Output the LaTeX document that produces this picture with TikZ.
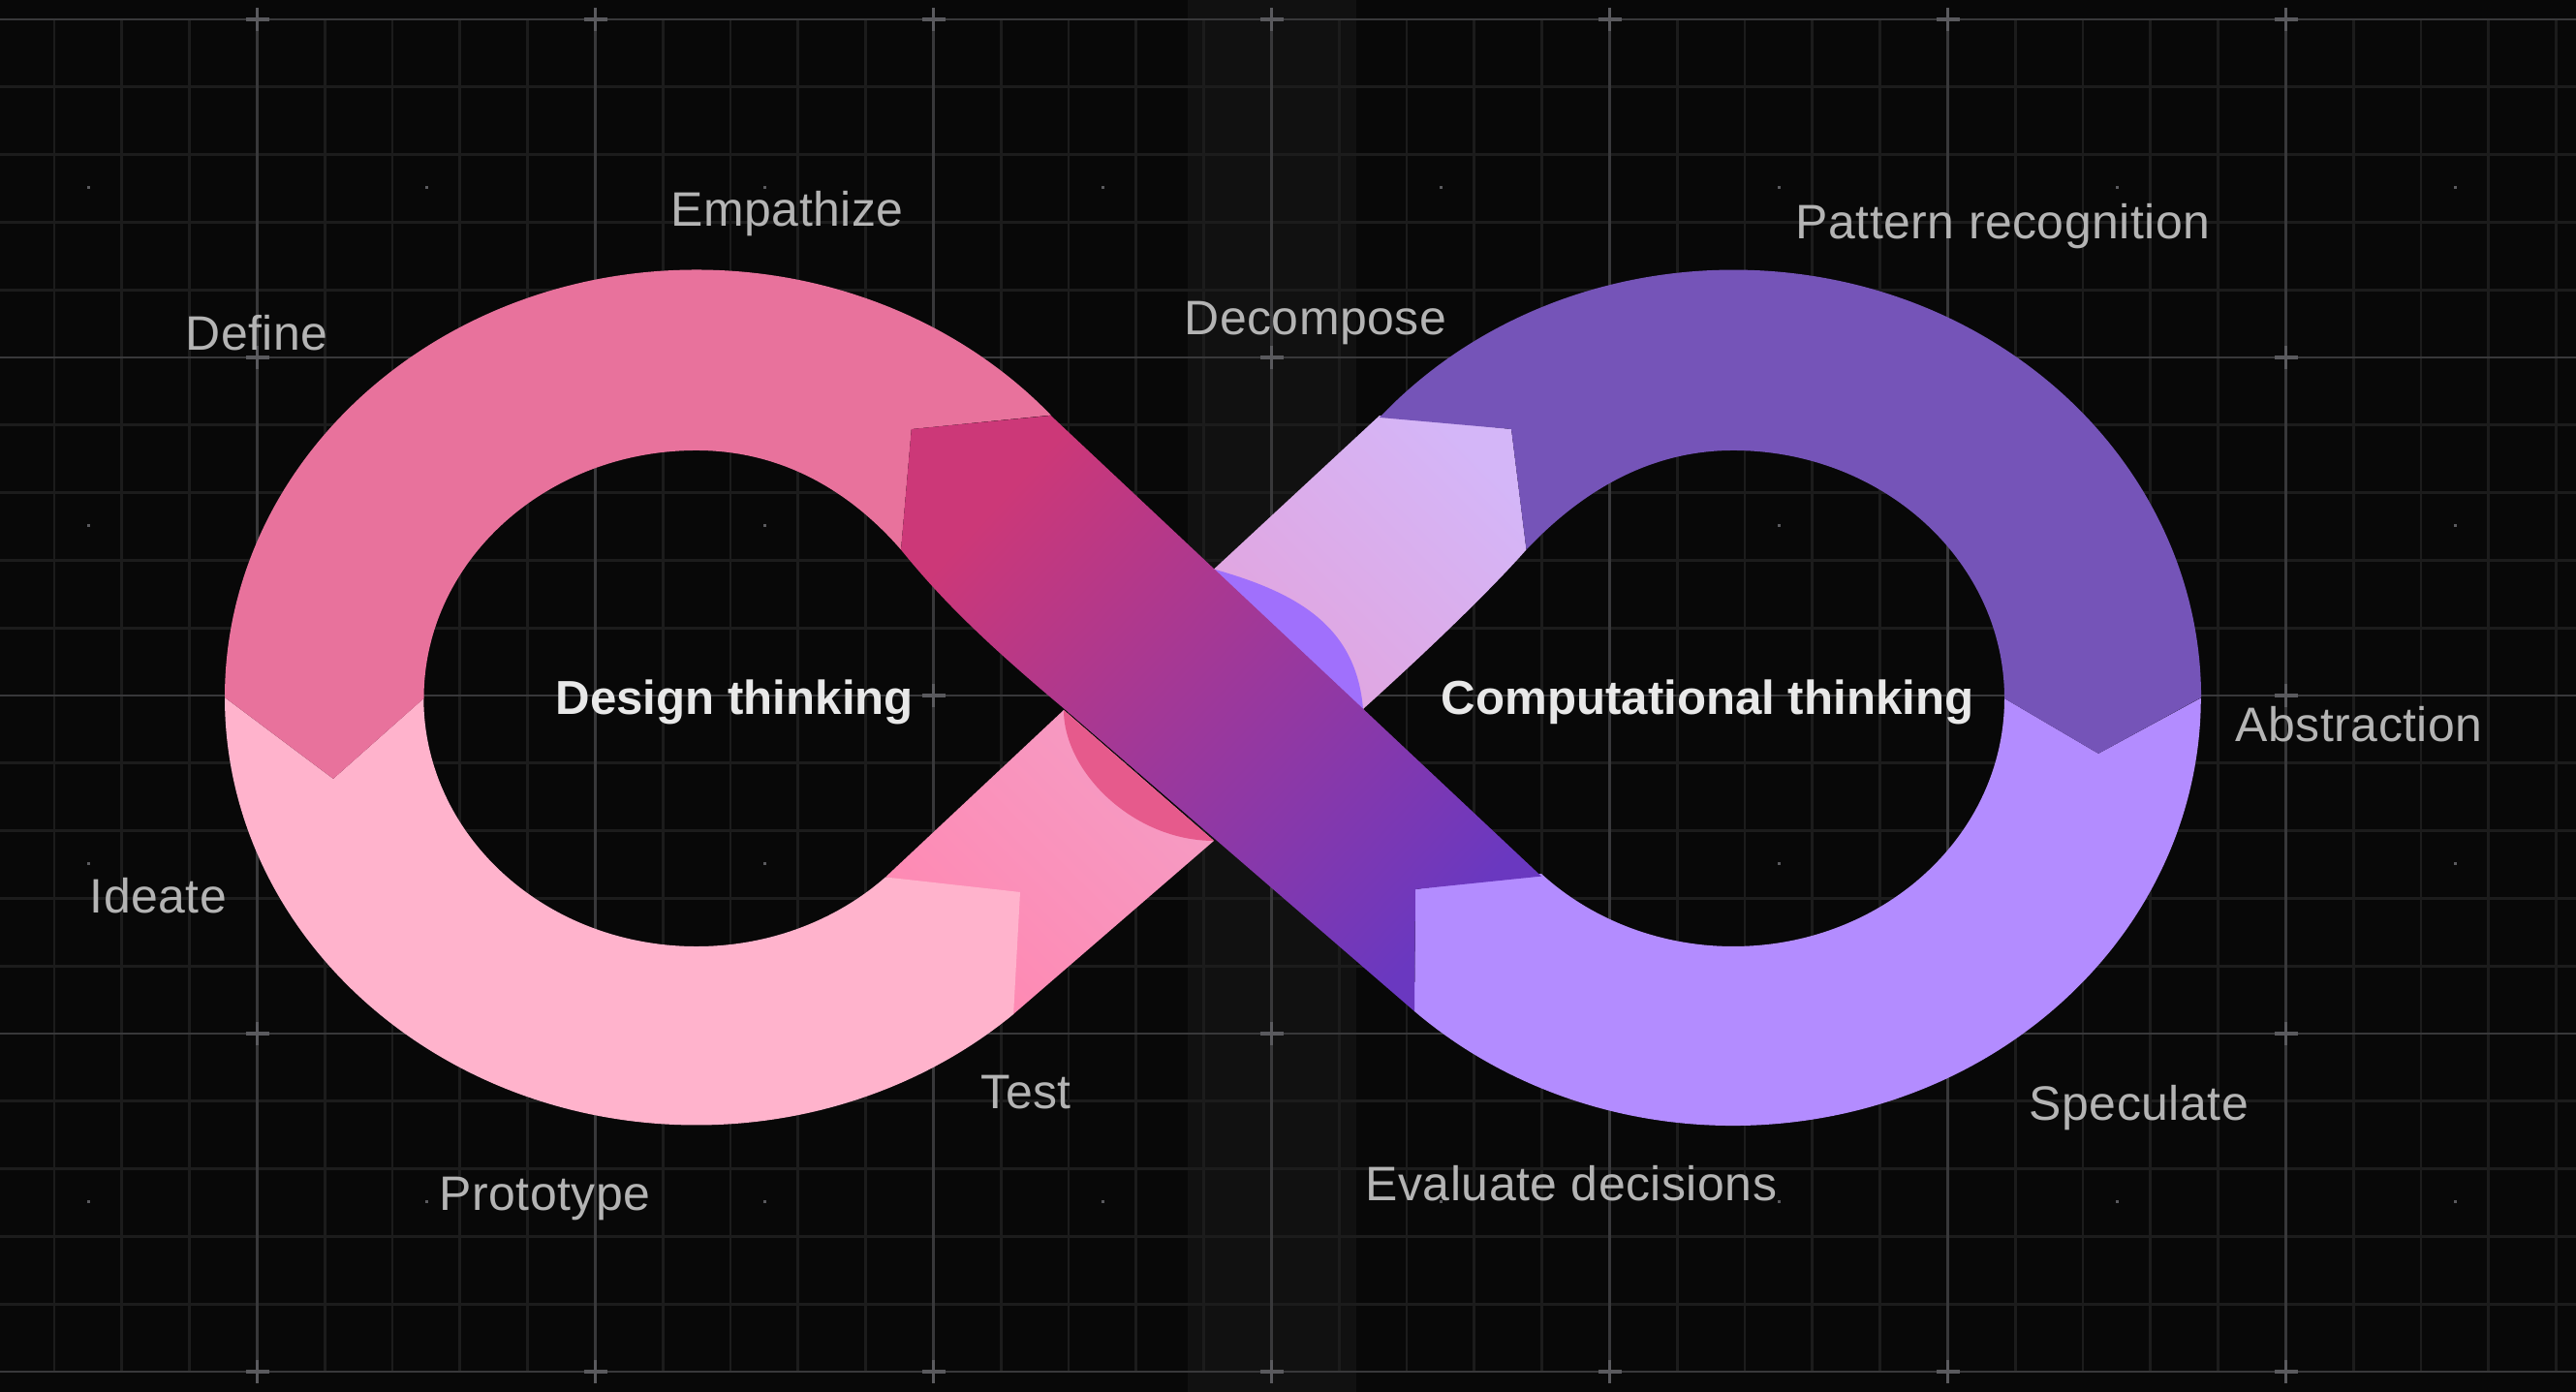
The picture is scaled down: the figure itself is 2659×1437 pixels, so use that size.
\documentclass[tikz,border=0pt]{standalone}
\usepackage{fontspec}
\setmainfont{Liberation Sans}
\newfontfamily\labelfont[LetterSpace=1.0]{Liberation Sans}

\definecolor{bgdark}{HTML}{080808}
\definecolor{bandgray}{HTML}{111111}
\definecolor{gridminor}{HTML}{1C1C1C}
\definecolor{gridmajor}{HTML}{38383A}
\definecolor{crossgray}{HTML}{5A5A5E}
\definecolor{labelgray}{HTML}{B4B4B4}
\definecolor{titlegray}{HTML}{E8E8E8}
\definecolor{rosedark}{HTML}{E8729C}
\definecolor{roselight}{HTML}{FFB3CC}
\definecolor{rosehalf}{HTML}{E65A8C}
\definecolor{violetdark}{HTML}{7554B8}
\definecolor{violetlight}{HTML}{B38CFF}
\definecolor{violethalf}{HTML}{A070FC}
\definecolor{twistpink}{HTML}{CC3878}
\definecolor{twistviolet}{HTML}{6A38C0}
\definecolor{pinkup}{HTML}{F59CC4}
\definecolor{pinkdown}{HTML}{FF88B2}
\definecolor{lilacup}{HTML}{D4B6F8}
\definecolor{lilacdown}{HTML}{E2A4DE}

\tikzset{
    steplabel/.style={text=labelgray, anchor=base west, inner sep=0, font=\labelfont\fontsize{14.2}{16}\selectfont},
    titlelabel/.style={text=titlegray, anchor=base west, inner sep=0, font=\fontsize{14}{16}\selectfont\bfseries},
    griddot/.style={fill=crossgray, draw=none},
}

\begin{document}
\begin{tikzpicture}[x=0.01cm, y=0.01cm]
\useasboundingbox (0,0) rectangle (2659,1437);
\fill[bgdark] (0,0) rectangle (2659,1437);
\fill[bandgray] (1226,0) rectangle (1400,1437);

% Grid
\foreach \k in {0,...,37} {
    \draw[gridminor, line width=0.8pt] ({56+69.8*\k},21) -- ({56+69.8*\k},1417);
}
\foreach \k in {0,...,20} {
    \draw[gridminor, line width=0.8pt] (0,{21+69.8*\k}) -- (2659,{21+69.8*\k});
}
\foreach \k in {0,...,4} {
    \draw[gridmajor, line width=0.8pt] (0,{21+349*\k}) -- (2659,{21+349*\k});
}
\foreach \k in {0,...,6} {
    \draw[gridmajor, line width=0.8pt] ({265.5+349*\k},21) -- ({265.5+349*\k},1417);
}

% Small dots
\foreach \i in {0,...,7} {
    \foreach \j in {0,...,3} {
        \fill[griddot] ({90+349*\i},{194.5+349*\j}) rectangle ++(3,3);
    }
}

% Crosses
\foreach \i/\j in {0/0,1/0,2/0,3/0,4/0,5/0,6/0,0/1,3/1,6/1,2/2,6/2,0/3,3/3,6/3,0/4,1/4,2/4,3/4,4/4,5/4,6/4} {
    \draw[crossgray, line width=1pt] ({265.5+349*\i-12},{21+349*(4-\j)}) -- ++(24,0);
    \draw[crossgray, line width=1pt] ({265.5+349*\i},{21+349*(4-\j)-12}) -- ++(0,24);
}

% Crossing under the twist
\path[left color=pinkup, right color=pinkdown, shading angle=315] (914,531.5) -- (1098,704) -- (1253,569) -- (1046,390) -- (1040,510) -- cycle;
\fill[rosehalf] (1098,704) .. controls (1098,640) and (1170,569) .. (1253,569) -- cycle;
\path[left color=lilacup, right color=lilacdown, shading angle=315] (1424,1008) -- (1560,994) -- (1575.5,869.5)
    .. controls (1545,835) and (1490,780) .. (1407,705) -- (1253,849.4) -- cycle;
\fill[violethalf] (1253,849.4) .. controls (1340,825) and (1400,790) .. (1407,705) -- cycle;

% Loop ends
\fill[roselight] (232,717) arc[start angle=180, end angle=312.2, x radius=487, y radius=441.5]
    -- (1053,516) -- (914,531.5)
    arc[start angle=313.9, end angle=180, x radius=281.5, y radius=256]
    -- (344,633) -- cycle;
\fill[violetlight] (1460,393) arc[start angle=227.1, end angle=360, x radius=483, y radius=441.5]
    -- (2166,659) -- (2069,716)
    arc[start angle=0, end angle=-135, x radius=280, y radius=256]
    -- (1461,519) -- cycle;

% Upper loop parts
\fill[rosedark] (232,717) arc[start angle=180, end angle=41.3, x radius=487, y radius=441.5]
    -- (940.8,994) -- (930,869.5) .. controls (880,927) and (810,972) .. (719,972)
    arc[start angle=90, end angle=180, x radius=281.5, y radius=256]
    -- (344,633) -- cycle;
\fill[violetdark] (1424,1006) arc[start angle=139.1, end angle=0, x radius=483, y radius=441.5]
    -- (2166,659) -- (2069,716)
    arc[start angle=0, end angle=90, x radius=280, y radius=256]
    .. controls (1700,972) and (1630,927) .. (1575.5,869.5) -- (1560,994) -- cycle;

% Twist
\path[left color=twistpink, right color=twistviolet, shading angle=47] (1084.7,1008) -- (1591,532.4) -- (1461,519) -- (1460,393) -- (1100,704)
    .. controls (1015,775) and (970,820) .. (930,869.5) -- (940.8,994) -- cycle;

% Labels
\draw (692,1203) node[steplabel] (empathize) {Empathize};
\draw (191,1075) node[steplabel] (define) {Define};
\draw (92,494) node[steplabel] (ideate) {Ideate};
\draw (453,187) node[steplabel] (prototype) {Prototype};
\draw (1012,292) node[steplabel] (test) {Test};
\draw (1222,1091) node[steplabel] (decompose) {Decompose};
\draw (1853,1190) node[steplabel] (pattern) {Pattern recognition};
\draw (2307,671) node[steplabel] (abstraction) {Abstraction};
\draw (2094,280) node[steplabel] (speculate) {Speculate};
\draw (1409,197) node[steplabel] (evaluate) {Evaluate decisions};
\draw (573,699) node[titlelabel] (design) {Design thinking};
\draw (1487,699) node[titlelabel] (computational) {Computational thinking};
\end{tikzpicture}
\end{document}
